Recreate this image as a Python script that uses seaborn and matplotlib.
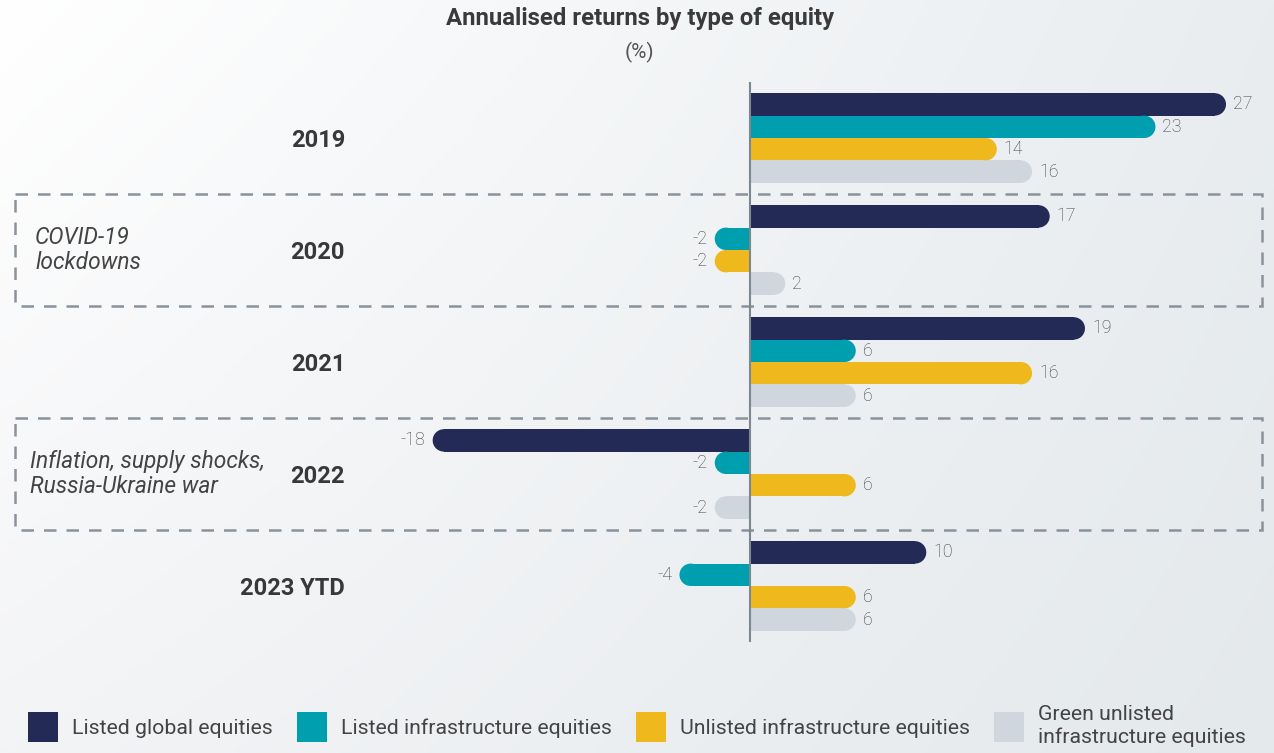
import numpy as np
import pandas as pd
import matplotlib
matplotlib.use("Agg")
import matplotlib.pyplot as plt
import seaborn as sns
from matplotlib.patches import Ellipse, Rectangle
from matplotlib.transforms import blended_transform_factory

# ---------------- data ----------------
years = ["2019", "2020", "2021", "2022", "2023 YTD"]
series = ["Listed global equities", "Listed infrastructure equities",
          "Unlisted infrastructure equities", "Green unlisted\ninfrastructure equities"]
listed_global = [27, 17, 19, -18, 10]
listed_infra = [23, -2, 6, -2, -4]
unlisted_infra = [14, -2, 16, 6, 6]
green_unlisted = [16, 2, 6, -2, 6]
colors = ["#232a55", "#009fb0", "#efb91e", "#cfd6dd"]
annotations = {"2020": "COVID-19\nlockdowns", "2022": "Inflation, supply shocks,\nRussia-Ukraine war"}
annotation_left_px = {"2020": 35, "2022": 30}
title = "Annualised returns by type of equity"
subtitle = "(%)"

df = pd.DataFrame({
    "year": np.repeat(years, 4),
    "series": series * len(years),
    "value": [v for row in zip(listed_global, listed_infra, unlisted_infra, green_unlisted) for v in row],
})

# ---------------- style ----------------
sns.set_theme(style="white")
plt.rcParams["font.family"] = ["Roboto", "DejaVu Sans"]

W, H = 1274, 753
fig = plt.figure(figsize=(W / 100, H / 100), dpi=100)

# background gradient
bg = fig.add_axes([0, 0, 1, 1], zorder=0)
c_tl = np.array([255, 255, 255]) / 255
c_tr = np.array([233, 237, 240]) / 255
c_bl = np.array([243, 244, 246]) / 255
c_br = np.array([228, 233, 236]) / 255
gx = np.linspace(0, 1, 200)[None, :, None]
gy = np.linspace(0, 1, 120)[:, None, None]
grad = (c_tl * (1 - gx) * (1 - gy) + c_tr * gx * (1 - gy) + c_bl * (1 - gx) * gy + c_br * gx * gy)
bg.imshow(grad, extent=[0, 1, 0, 1], aspect="auto", interpolation="bilinear")
bg.axis("off")

ax = fig.add_axes([0, 0, 1, 1], zorder=1)
ax.set_facecolor("none")

sns.barplot(data=df, x="value", y="year", hue="series", hue_order=series, order=years,
            palette=colors, orient="h", width=0.8, gap=0, saturation=1,
            linewidth=0, legend=False, ax=ax)

# layout scales (pixels)
PX_PER_UNIT = 17.63
ZERO_PX = 750
PX_PER_CAT = 112
FIRST_CAT_PX = 138
ax.set_xlim(-ZERO_PX / PX_PER_UNIT, (W - ZERO_PX) / PX_PER_UNIT)
ax.set_ylim((H - FIRST_CAT_PX) / PX_PER_CAT, -FIRST_CAT_PX / PX_PER_CAT)
ax.axis("off")

# value labels (before reshaping bars)
for cont in ax.containers:
    ax.bar_label(cont, fmt="%g", padding=5, fontsize=12.8, color="#3f3f3f",
                 fontweight="light")

# rounded outer ends
for p in list(ax.patches):
    if not isinstance(p, Rectangle):
        continue
    w = p.get_width()
    if w == 0:
        continue
    h = p.get_height()
    r = (abs(h) * PX_PER_CAT / 2) / PX_PER_UNIT
    s = np.sign(w)
    p.set_width(w - s * r)
    ax.add_patch(Ellipse((p.get_x() + w - s * r, p.get_y() + h / 2), 2 * r, abs(h),
                         facecolor=p.get_facecolor(), edgecolor="none", zorder=p.get_zorder()))

# zero line
ax.vlines(0, -0.5, len(years) - 0.5, color="#7d8790", linewidth=1.5, zorder=5)

# year labels and annotations, dashed boxes
tr = blended_transform_factory(ax.transAxes, ax.transData)
for i, y in enumerate(years):
    ax.text(345 / W, i + 0.02, y, transform=tr, ha="right", va="center", fontsize=17,
            fontweight="bold", color="#383838")
    if y in annotations:
        ax.text(annotation_left_px[y] / W, i, annotations[y], transform=tr, ha="left",
                va="center", fontsize=16.4, style="italic", color="#444444", linespacing=1.12)
        ax.add_patch(Rectangle((15 / W, i - 0.5), (1262 - 15) / W, 1.0, transform=tr,
                               fill=False, edgecolor="#8a929b", linewidth=1.8,
                               linestyle=(0, (5, 4)), zorder=0.5))

# title
fig.text(640 / W, 1 - 18 / H, title, ha="center", va="center", fontsize=17.2,
         fontweight="bold", color="#3a3a3a")
fig.text(639 / W, 1 - 52 / H, subtitle, ha="center", va="center", fontsize=15,
         color="#555555")

# legend
handles = [Rectangle((0, 0), 1, 1, facecolor=c, edgecolor="none") for c in colors]
fs = 15.3
fs_px = fs * 100 / 72
fig.legend(handles, series, loc="center left", bbox_to_anchor=(28 / W, 1 - 726 / H),
           ncol=4, frameon=False, fontsize=fs, handlelength=30 / fs_px,
           handleheight=38 / fs_px, handletextpad=14 / fs_px, columnspacing=24 / fs_px,
           borderpad=0, borderaxespad=0, labelcolor="#444444", labelspacing=0)

fig.savefig("out.png", dpi=100)
